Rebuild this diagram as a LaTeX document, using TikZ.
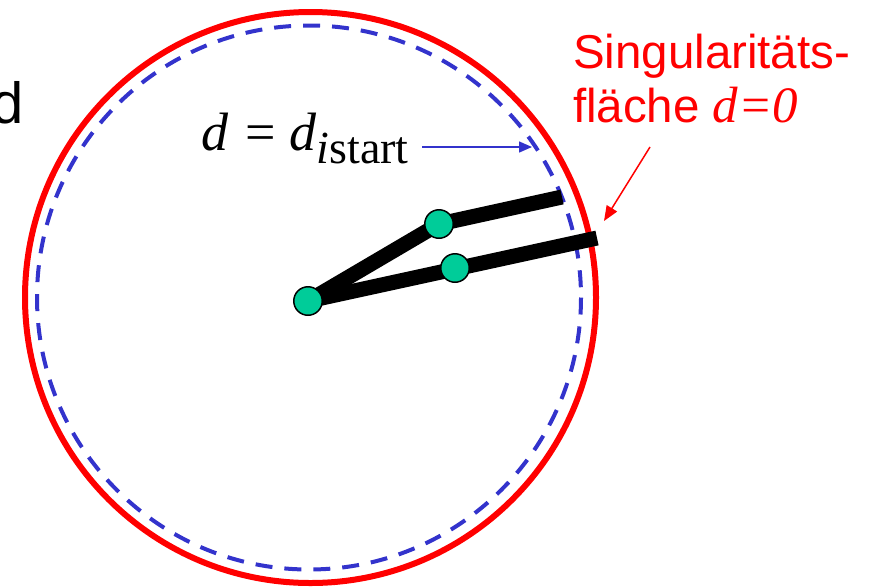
\documentclass[tikz,border=0pt]{standalone}
\usepackage{fontspec}
\setmainfont{Liberation Serif}
\newfontfamily\arialfont{Liberation Sans}
\usetikzlibrary{arrows.meta}
\definecolor{pptred}{RGB}{255,0,0}
\definecolor{pptblue}{RGB}{51,51,204}
\definecolor{jointgreen}{RGB}{0,204,153}
\begin{document}
\begin{tikzpicture}[x=1pt,y=-1pt,
  txt/.style={inner sep=0pt,outer sep=0pt,anchor=base west},
  linkbar/.style={line width=15pt,line cap=butt,draw=black},
  joint/.style={circle,draw=black,line width=1.5pt,fill=jointgreen,minimum size=28.5pt,inner sep=0pt},
  thinarrow/.style={line width=1.5pt}]
\useasboundingbox (0,0) rectangle (872,587);
% circles
\coordinate (C) at (310.5,297.5);
\draw[pptblue,line width=4pt,dash pattern=on 17pt off 12pt] (309,297.5) circle[radius=272];
\draw[pptred,line width=6pt] (C) circle[radius=285.5];
% link geometry
\coordinate (pB) at (308,301);
\coordinate (pJ2) at (439,224);
\coordinate (pJ3) at (455,268);
\coordinate (pE1) at (562,197);
\coordinate (pE2) at (597,238);
\draw[linkbar] (pB) -- (pJ2) -- (pE1);
\draw[linkbar] (pB) -- (pE2);
\node[joint] (base) at (pB) {};
\node[joint] (j2) at (pJ2) {};
\node[joint] (j3) at (pJ3) {};
% texts
\node[txt,font=\arialfont\fontsize{58}{60}\selectfont] (dleft) at (-9,123) {d};
\node[txt,font=\fontsize{54}{56}\selectfont] (dstart) at (201,150)
  {\textit{d}\hspace{17pt}=\hspace{14pt}\textit{d}\raisebox{-13pt}{\fontsize{46}{47}\selectfont\textit{i}start}};
\node[txt,text=pptred,font=\arialfont\fontsize{47.5}{50}\selectfont] (sing1) at (573,68) {Singularitäts-};
\node[txt,text=pptred,font=\arialfont\fontsize{47.5}{50}\selectfont] (sing2) at (573,122)
  {fläche {\rmfamily\itshape\fontsize{51}{54}\selectfont d=0}};
% arrows
\coordinate (a1s) at (422,147);
\coordinate (a1e) at (532,147);
\draw[thinarrow,pptblue,-{Triangle[length=13pt,width=11pt]}] (a1s) -- (a1e);
\coordinate (a2s) at (650,147);
\coordinate (a2e) at (604,221);
\draw[thinarrow,pptred,-{Triangle[length=15pt,width=12pt]}] (a2s) -- (a2e);
\end{tikzpicture}
\end{document}
